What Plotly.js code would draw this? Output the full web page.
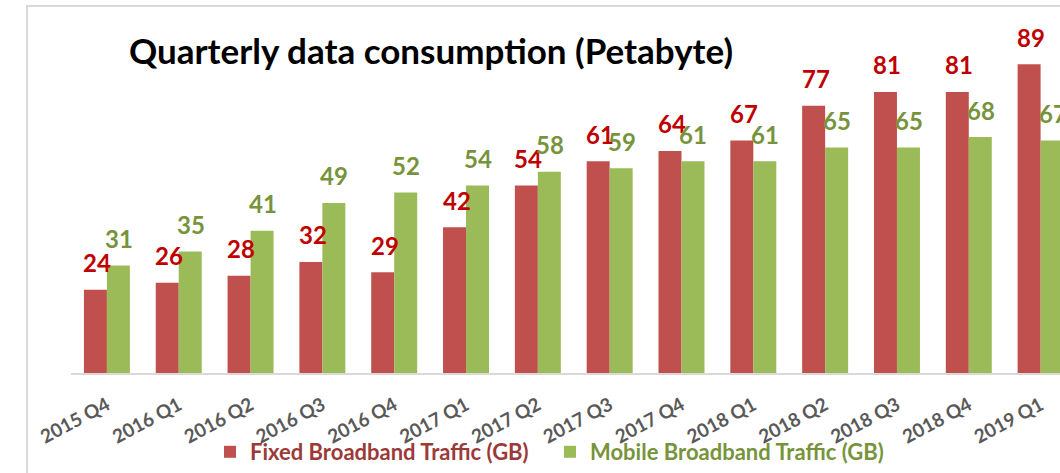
<!DOCTYPE html>
<html>
<head>
<meta charset="utf-8">
<script src="https://cdn.plot.ly/plotly-3.0.1.min.js"></script>
<style>
html,body{margin:0;padding:0;background:#fff;overflow:hidden;}
#wrap{position:relative;width:1060px;height:473px;}
#chart{position:absolute;left:0;top:0;width:1060px;height:473px;}
.frameL{position:absolute;left:26px;top:5px;width:2px;height:468px;background:#D9D9D9;}
.frameT{position:absolute;left:26px;top:5px;width:1034px;height:2px;background:#D9D9D9;}
</style>
</head>
<body>
<div id="wrap">
<div id="chart"></div>
<div class="frameL"></div>
<div class="frameT"></div>
</div>
<script>
const quarters = ["2015 Q4","2016 Q1","2016 Q2","2016 Q3","2016 Q4","2017 Q1","2017 Q2","2017 Q3","2017 Q4","2018 Q1","2018 Q2","2018 Q3","2018 Q4","2019 Q1"];
const fixedTraffic = [24,26,28,32,29,42,54,61,64,67,77,81,81,89];
const mobileTraffic = [31,35,41,49,52,54,58,59,61,61,65,65,68,67];
const fixedName = "Fixed Broadband Traffic (GB)";
const mobileName = "Mobile Broadband Traffic (GB)";
const chartTitle = "Quarterly data consumption (Petabyte)";

const FONT = "Lato, 'Open Sans', sans-serif";
const RED = "#C0504D", GREEN = "#9BBB59";
const RED_LBL = "#C00000", GREEN_LBL = "#77933C";
const RED_LEG = "#9B3A38";

const traces = [
  {type:"bar", x:quarters, y:fixedTraffic, name:'<span style="color:'+RED_LEG+'">'+fixedName+'</span>',
   marker:{color:RED}, hoverinfo:"skip"},
  {type:"bar", x:quarters, y:mobileTraffic, name:'<span style="color:'+GREEN_LBL+'">'+mobileName+'</span>',
   marker:{color:GREEN}, hoverinfo:"skip"}
];

const annotations = [];
quarters.forEach((q,i)=>{
  annotations.push({x:q, y:fixedTraffic[i], xref:"x", yref:"y", text:String(fixedTraffic[i]),
    showarrow:false, xshift:-9.5, yshift:27, yanchor:"middle", xanchor:"center",
    font:{family:FONT, size:24, color:RED_LBL, weight:"bold"}});
  annotations.push({x:q, y:mobileTraffic[i], xref:"x", yref:"y", text:String(mobileTraffic[i]),
    showarrow:false, xshift:12, yshift:27, yanchor:"middle", xanchor:"center",
    font:{family:FONT, size:24, color:GREEN_LBL, weight:"bold"}});
});

const layout = {
  width:1060, height:473,
  margin:{l:71, r:0, t:26, b:100, pad:0, autoexpand:false},
  paper_bgcolor:"#fff", plot_bgcolor:"#fff",
  barmode:"group", bargap:0.36, bargroupgap:0,
  title:{text:chartTitle, xref:"container", yref:"container", x:431/1060, y:1-52/473,
    xanchor:"center", yanchor:"middle", font:{family:FONT, size:35, color:"#000", weight:"bold"}},
  xaxis:{type:"category", range:[-0.5,13.27], showgrid:false, zeroline:false, automargin:false,
    showline:true, linecolor:"#D9D9D9", linewidth:2, ticks:"", tickangle:-28, ticklabelstandoff:12,
    tickfont:{family:FONT, size:19, color:"#595959", weight:"bold"}, fixedrange:true},
  yaxis:{range:[0,100], visible:false, showgrid:false, zeroline:false, fixedrange:true},
  showlegend:true,
  legend:{orientation:"h", xref:"container", x:210/1060, xanchor:"left", yref:"container", y:(473-452)/473, yanchor:"middle",
    entrywidth:295, entrywidthmode:"pixels",
    font:{family:FONT, size:22, weight:"bold"}, itemclick:false, itemdoubleclick:false,
    bgcolor:"rgba(0,0,0,0)", traceorder:"normal"},
  annotations:annotations
};

Plotly.newPlot("chart", traces, layout, {displayModeBar:false, staticPlot:true});
</script>
</body>
</html>
